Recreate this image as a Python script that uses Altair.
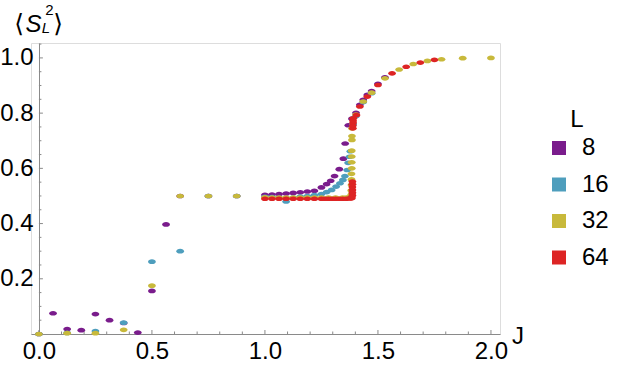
import altair as alt
import pandas as pd

# ---- data ----
L8_J = [0, 0.0625, 0.125, 0.1875, 0.25, 0.3125, 0.375, 0.4375, 0.5, 0.5625, 0.625, 0.75, 0.875,
        1.0, 1.03125, 1.0625, 1.09375, 1.125, 1.15625, 1.1875, 1.21875, 1.25, 1.273, 1.291, 1.308,
        1.329, 1.347, 1.355, 1.369, 1.385, 1.403, 1.42, 1.435, 1.453, 1.472, 1.5, 1.531]
L8_S = [0.0, 0.075, 0.018, 0.014, 0.072, 0.05, 0.04, 0.005, 0.156, 0.397, 0.50, 0.50, 0.50,
        0.504, 0.505, 0.507, 0.509, 0.511, 0.513, 0.516, 0.519, 0.531, 0.543, 0.555, 0.572,
        0.597, 0.635, 0.690, 0.756, 0.780, 0.801, 0.830, 0.848, 0.866, 0.880, 0.906, 0.930]

L16_J = [0, 0.125, 0.25, 0.375, 0.5, 0.625, 0.75, 0.875,
         1.0, 1.03125, 1.0625, 1.09375, 1.125, 1.15625, 1.1875, 1.21875, 1.25, 1.273, 1.295,
         1.315, 1.332, 1.345, 1.354, 1.364, 1.368, 1.374, 1.378, 1.39, 1.403, 1.435, 1.472]
L16_S = [0.0, 0.004, 0.011, 0.041, 0.262, 0.30, 0.50, 0.50,
         0.497, 0.496, 0.493, 0.480, 0.494, 0.498, 0.500, 0.503, 0.507, 0.514, 0.522,
         0.534, 0.546, 0.558, 0.572, 0.594, 0.620, 0.642, 0.662, 0.760, 0.790, 0.840, 0.872]

L32_J = [0, 0.125, 0.25, 0.375, 0.5, 0.625, 0.75, 0.875,
         1.0, 1.03125, 1.0625, 1.09375, 1.125, 1.15625, 1.1875, 1.21875, 1.25, 1.28125,
         1.3125, 1.34375, 1.36, 1.372, 1.378,
         1.382, 1.382, 1.383, 1.383, 1.383, 1.384, 1.384, 1.384, 1.384, 1.385, 1.385, 1.385,
         1.403, 1.435, 1.472, 1.53125, 1.59375, 1.65625, 1.71875, 1.78125, 1.875, 2.0]
L32_S = [0.0, 0.003, 0.003, 0.015, 0.175, 0.50, 0.50, 0.50,
         0.495, 0.494, 0.494, 0.494, 0.494, 0.494, 0.494, 0.494, 0.494, 0.494,
         0.494, 0.494, 0.494, 0.495, 0.497,
         0.505, 0.520, 0.540, 0.560, 0.580, 0.600, 0.622, 0.643, 0.664, 0.703, 0.717, 0.745,
         0.795, 0.842, 0.874, 0.926, 0.958, 0.978, 0.989, 0.995, 0.999, 1.0]

L64_J = [1.0, 1.03125, 1.0625, 1.09375, 1.125, 1.15625, 1.1875, 1.21875, 1.25, 1.265625,
         1.28125, 1.296875, 1.3125, 1.328125, 1.34375, 1.359375, 1.375, 1.38, 1.385,
         1.387, 1.387, 1.387, 1.387, 1.387, 1.387,
         1.389, 1.389, 1.39, 1.39, 1.391,
         1.405, 1.42, 1.453, 1.5, 1.5625, 1.625, 1.6875, 1.75]
L64_S = [0.490, 0.490, 0.490, 0.490, 0.490, 0.490, 0.490, 0.490, 0.490, 0.490,
         0.490, 0.490, 0.490, 0.490, 0.490, 0.490, 0.491, 0.492, 0.493,
         0.502, 0.512, 0.522, 0.532, 0.542, 0.552,
         0.745, 0.755, 0.765, 0.772, 0.781,
         0.793, 0.824, 0.860, 0.902, 0.944, 0.968, 0.983, 0.993]

SERIES = ["8", "16", "32", "64"]
COLORS = ["#7A1C8C", "#4E9EBD", "#C8B93B", "#DD2424"]

X_MAJOR = [0, 0.5, 1.0, 1.5, 2.0]
X_MINOR = [0.1, 0.2, 0.3, 0.4, 0.6, 0.7, 0.8, 0.9, 1.1, 1.2, 1.3, 1.4, 1.6, 1.7, 1.8, 1.9]
Y_MAJOR = [0.2, 0.4, 0.6, 0.8, 1.0]
Y_MINOR = [0.05, 0.1, 0.15, 0.25, 0.3, 0.35, 0.45, 0.5, 0.55, 0.65, 0.7, 0.75, 0.85, 0.9, 0.95, 1.05]

frames = []
for name, js, ss in [("8", L8_J, L8_S), ("16", L16_J, L16_S), ("32", L32_J, L32_S), ("64", L64_J, L64_S)]:
    frames.append(pd.DataFrame({"J": js, "S": ss, "L": name}))
df = pd.concat(frames, ignore_index=True)
df["ord"] = range(len(df))

W, H = 469, 291
X0 = 0.035 * 226  # pixel of J = 0 inside plot
xs = alt.Scale(domain=[-0.035, 2.04], nice=False, zero=False)
ys = alt.Scale(domain=[0, 1.054], nice=False, zero=False)
AX = "#8a8a8a"
FONT = "Liberation Sans"
FS = 24

ellipse = "M-1,0A1,0.6,0,1,1,1,0A1,0.6,0,1,1,-1,0Z"

points = alt.Chart(df).mark_point(filled=True, shape=ellipse, size=60, opacity=1).encode(
    x=alt.X("J:Q", scale=xs, axis=alt.Axis(values=X_MAJOR, format=".1f", title=None, grid=False,
                                            domain=True, domainColor=AX, ticks=False,
                                            labelFontSize=FS, labelFont=FONT, labelColor="black",
                                            labelPadding=5)),
    y=alt.Y("S:Q", scale=ys, axis=alt.Axis(values=Y_MAJOR, format=".1f", title=None, grid=False,
                                            domain=True, domainColor=AX, ticks=False, offset=-8,
                                            labelFontSize=FS, labelFont=FONT, labelColor="black",
                                            labelPadding=6)),
    color=alt.Color("L:N", scale=alt.Scale(domain=SERIES, range=COLORS),
                    legend=alt.Legend(title=None, orient="none", legendX=516, legendY=93,
                                      symbolType="square", symbolSize=196, symbolStrokeWidth=0,
                                      symbolOpacity=1, labelFontSize=FS, labelFont=FONT,
                                      labelColor="black", labelOffset=11, rowPadding=12.5,
                                      padding=0)),
    order="ord:Q",
)

xmaj = alt.Chart(pd.DataFrame({"J": X_MAJOR})).mark_rule(color=AX, strokeWidth=1).encode(
    x=alt.X("J:Q", scale=xs), y=alt.value(H), y2=alt.value(H - 4))
xmin = alt.Chart(pd.DataFrame({"J": X_MINOR})).mark_rule(color=AX, strokeWidth=1).encode(
    x=alt.X("J:Q", scale=xs), y=alt.value(H), y2=alt.value(H - 2.5))
ymaj = alt.Chart(pd.DataFrame({"S": Y_MAJOR})).mark_rule(color=AX, strokeWidth=1).encode(
    y=alt.Y("S:Q", scale=ys), x=alt.value(X0), x2=alt.value(X0 + 4))
ymin = alt.Chart(pd.DataFrame({"S": Y_MINOR})).mark_rule(color=AX, strokeWidth=1).encode(
    y=alt.Y("S:Q", scale=ys), x=alt.value(X0), x2=alt.value(X0 + 2.5))

one = pd.DataFrame({"a": [0]})


def label(text, x, y, size, font=FONT, style="normal", align="center", baseline="alphabetic"):
    return alt.Chart(one).mark_text(text=text, fontSize=size, font=font, fontStyle=style,
                                    align=align, baseline=baseline, color="black").encode(
        x=alt.value(x), y=alt.value(y))


texts = [
    label("⟨", -12, -11, 25, font="DejaVu Sans"),
    label("S", 2.5, -11, 24, style="italic"),
    label("2", 18.5, -28.5, 15),
    label("L", 15, -10.5, 15, style="italic"),
    label("⟩", 27, -11, 25, font="DejaVu Sans"),
    label("J", 487, 301, FS),
    label("L", 546, 84, FS),
]

chart = alt.layer(xmin, xmaj, ymin, ymaj, points, *texts).properties(
    width=W, height=H,
    autosize=alt.AutoSizeParams(type="none"),
    padding={"left": 31, "top": 43, "right": 117, "bottom": 35},
).configure_view(stroke=None).configure(background="white")

chart.save("out.html", embed_options={"renderer": "svg", "actions": False})
